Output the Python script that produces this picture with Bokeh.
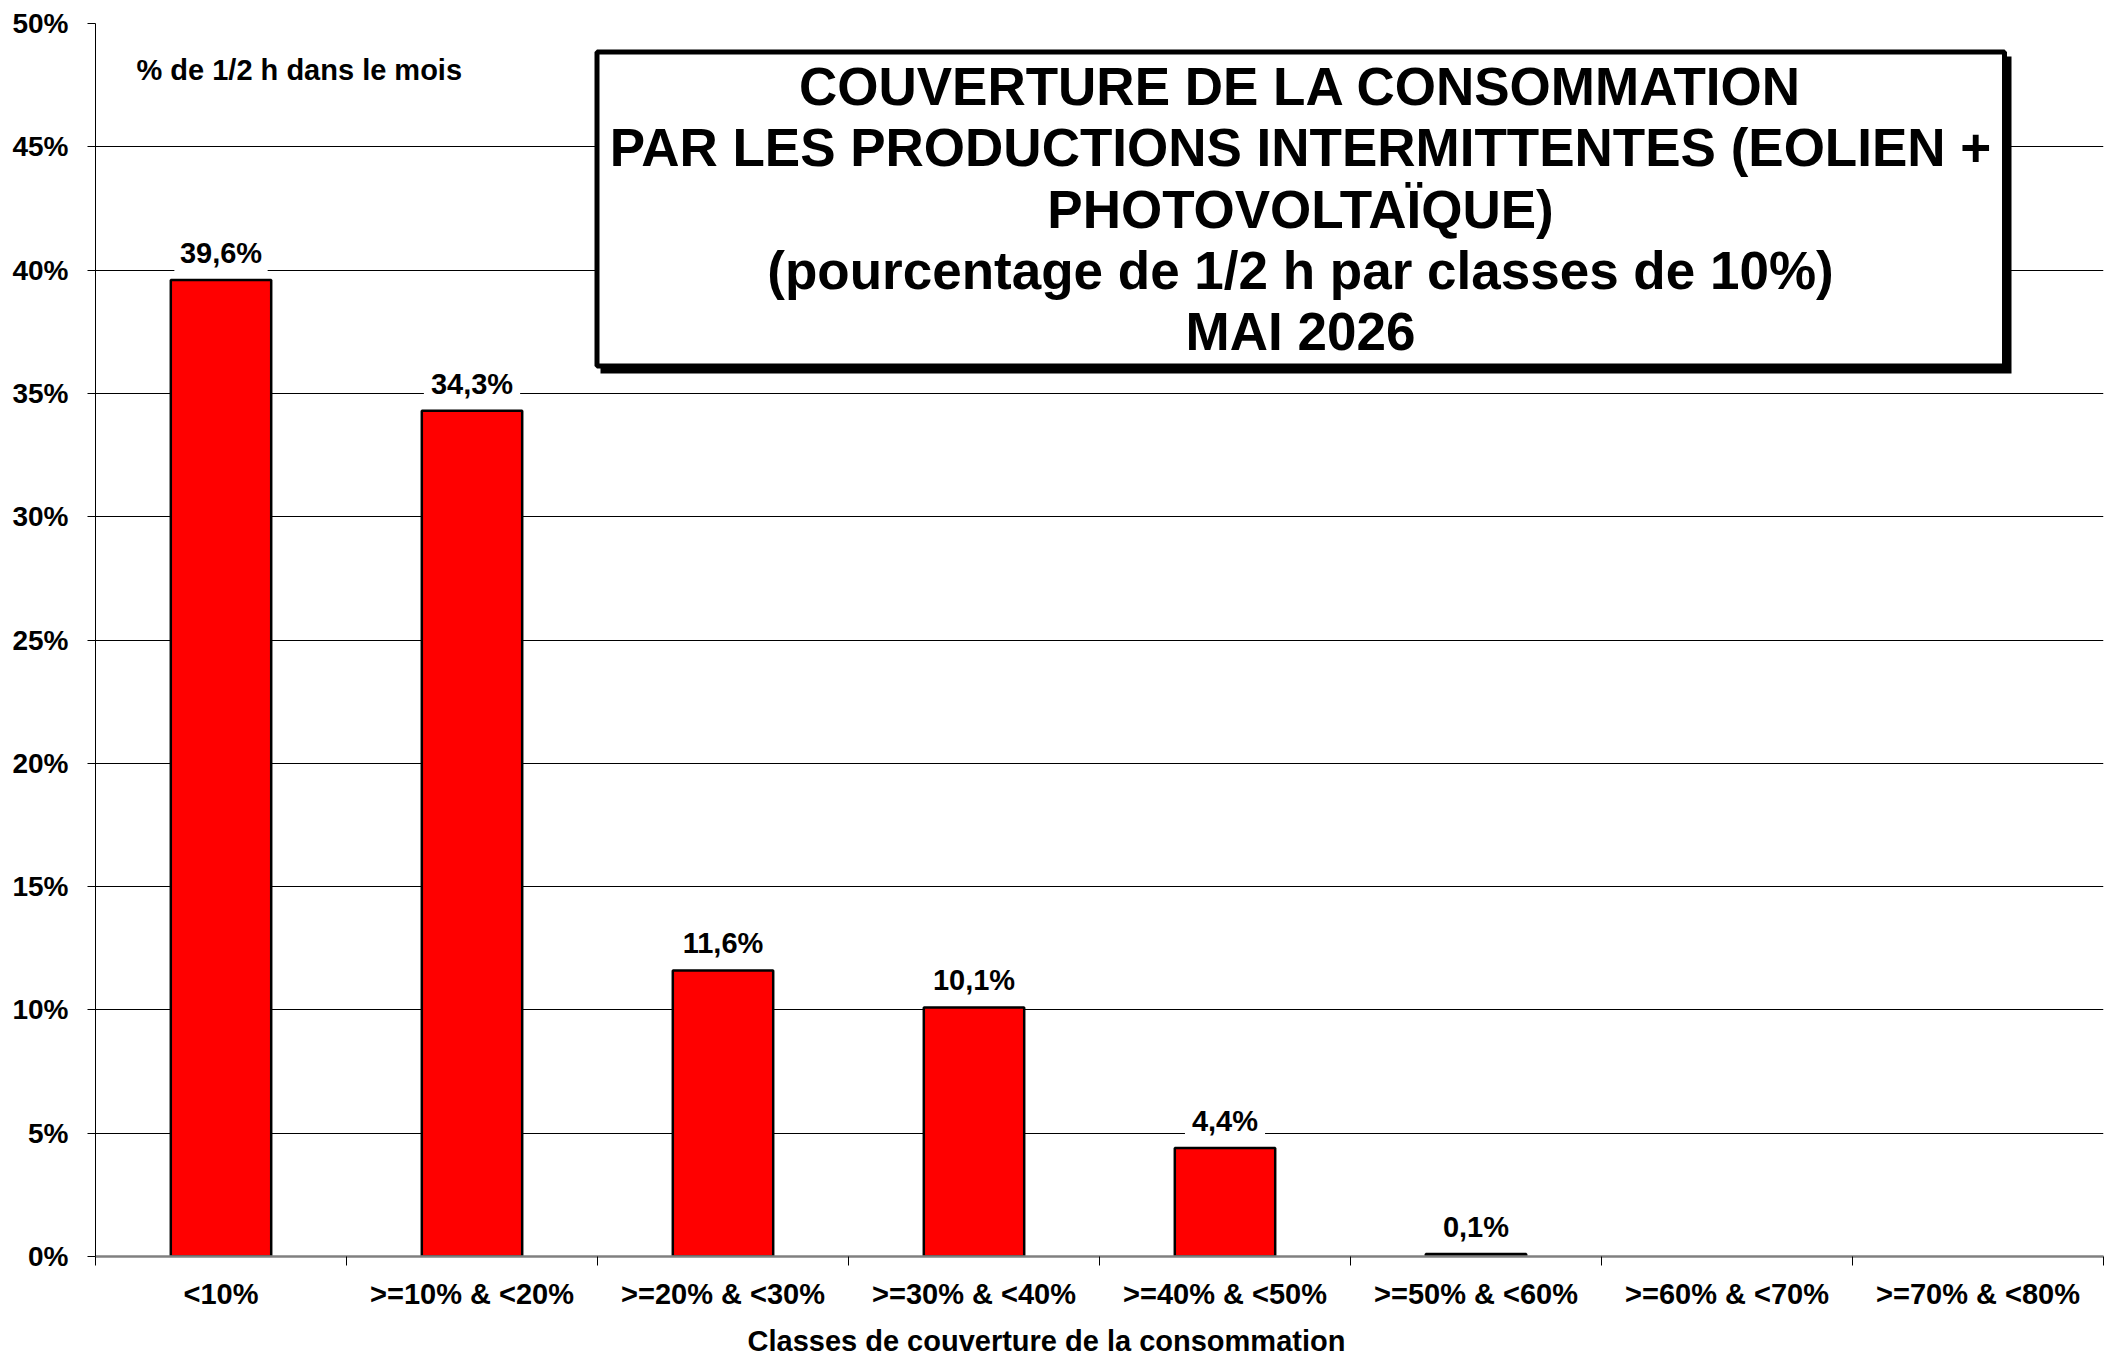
from bokeh.plotting import figure
from bokeh.models import (Range1d, FixedTicker, PrintfTickFormatter, ColumnDataSource,
                          LabelSet, Label, BoxAnnotation, Title)
from bokeh.core.properties import value
from bokeh.embed import file_html
from bokeh.resources import INLINE

# ---------------- data ----------------
categories = ["<10%", ">=10% & <20%", ">=20% & <30%", ">=30% & <40%",
              ">=40% & <50%", ">=50% & <60%", ">=60% & <70%", ">=70% & <80%"]
values = [39.6, 34.3, 11.6, 10.1, 4.4, 0.1]          # % of half-hours (last two classes empty)
y_ticks = [0, 5, 10, 15, 20, 25, 30, 35, 40, 45, 50]
title_lines = ["COUVERTURE DE LA CONSOMMATION",
               "PAR LES PRODUCTIONS INTERMITTENTES (EOLIEN +",
               "PHOTOVOLTAÏQUE)",
               "(pourcentage de 1/2 h par classes de 10%)",
               "MAI 2026"]
y_note = "% de 1/2 h dans le mois"
x_title = "Classes de couverture de la consommation"

# ---------------- layout ----------------
FONT = "Liberation Sans"
W, H = 2111, 1367
LEFT, RIGHT, TOP, BOTTOM = 95, 8, 23, 111
FW, FH = W - LEFT - RIGHT, H - TOP - BOTTOM
NX = len(categories)
YMAX = y_ticks[-1]


def dx(px):  # canvas px -> data x
    return (px - LEFT) / FW * NX


def dy(py):  # canvas px -> data y
    return (H - BOTTOM - py) / FH * YMAX


p = figure(width=W, height=H, x_range=Range1d(0, NX), y_range=Range1d(0, YMAX),
           output_backend="svg", toolbar_location=None,
           min_border_left=LEFT, min_border_right=RIGHT,
           min_border_top=TOP, min_border_bottom=BOTTOM)
p.outline_line_color = None
p.background_fill_color = "white"
p.border_fill_color = "white"

centers = [i + 0.5 for i in range(NX)]
bar_x = centers[:len(values)]
labels = [f"{v:.1f}".replace(".", ",") + "%" for v in values]
src = ColumnDataSource(dict(x=bar_x, top=values, label=labels))

p.vbar(x="x", top="top", bottom=0, width=0.4, source=src,
       fill_color="#FF0000", line_color="black", line_width=2.5)

# y axis
p.yaxis.ticker = FixedTicker(ticks=y_ticks)
p.yaxis.formatter = PrintfTickFormatter(format="%d%%")
p.yaxis.major_label_text_font = FONT
p.yaxis.major_label_text_font_style = "bold"
p.yaxis.major_label_text_font_size = "28px"
p.yaxis.major_label_text_color = "black"
p.yaxis.major_tick_out = 8
p.yaxis.major_tick_in = 0
p.yaxis.minor_tick_line_color = None
p.yaxis.axis_line_color = "black"
p.yaxis.axis_line_width = 1
p.yaxis.major_tick_line_color = "black"
p.yaxis.major_label_standoff = 19

p.ygrid.ticker = FixedTicker(ticks=y_ticks)
p.ygrid.grid_line_color = "black"
p.ygrid.grid_line_width = 1
p.xgrid.visible = False

# x axis: labels at centres, tick marks at class boundaries
p.xaxis.ticker = FixedTicker(ticks=centers, minor_ticks=list(range(NX + 1)))
p.xaxis.major_label_overrides = {c: lab for c, lab in zip(centers, categories)}
p.xaxis.major_tick_line_color = None
p.xaxis.major_tick_out = 0
p.xaxis.major_tick_in = 0
p.xaxis.minor_tick_line_color = "black"
p.xaxis.minor_tick_out = 9
p.xaxis.minor_tick_in = 0
p.xaxis.axis_line_color = "#808080"
p.xaxis.axis_line_width = 2.5
p.xaxis.major_label_text_font = FONT
p.xaxis.major_label_text_font_style = "bold"
p.xaxis.major_label_text_font_size = "29px"
p.xaxis.major_label_text_color = "black"
p.xaxis.major_label_standoff = 12

# x-axis title (below the axis, slightly left of centre as in the original)
p.add_layout(Title(text=x_title, align="left", offset=747 - LEFT,
                   text_font=FONT, text_font_style="bold", text_font_size="29px",
                   text_color="black", standoff=20), "below")

# value labels (white box hides the gridline behind the text)
p.add_layout(LabelSet(x="x", y="top", text="label", source=src, y_offset=17,
                      text_align="center", text_baseline="alphabetic",
                      text_font=value(FONT), text_font_style="bold", text_font_size="29px",
                      text_color="black", background_fill_color="white",
                      background_fill_alpha=1.0, border_line_color="white",
                      border_line_width=14))

# title box with shadow
p.add_layout(BoxAnnotation(left=dx(600), right=dx(2011), top=dy(56), bottom=dy(373),
                           fill_color="black", fill_alpha=1.0, line_color=None))
p.add_layout(BoxAnnotation(left=dx(596.5), right=dx(2004), top=dy(51.5), bottom=dy(365.5),
                           fill_color="white", fill_alpha=1.0,
                           line_color="black", line_alpha=1.0, line_width=5))
for line, base in zip(title_lines, [86, 147, 209, 270, 331]):
    p.add_layout(Label(x=dx(1300), y=dy(base), text=line, text_align="center",
                       text_baseline="alphabetic", text_font=FONT,
                       text_font_style="bold", text_font_size="53px", text_color="black"))

p.add_layout(Label(x=dx(136), y=dy(69), text=y_note, text_align="left",
                   text_baseline="alphabetic", text_font=FONT, text_font_style="bold",
                   text_font_size="29px", text_color="black"))

open("out.html", "w").write(file_html(p, INLINE))
